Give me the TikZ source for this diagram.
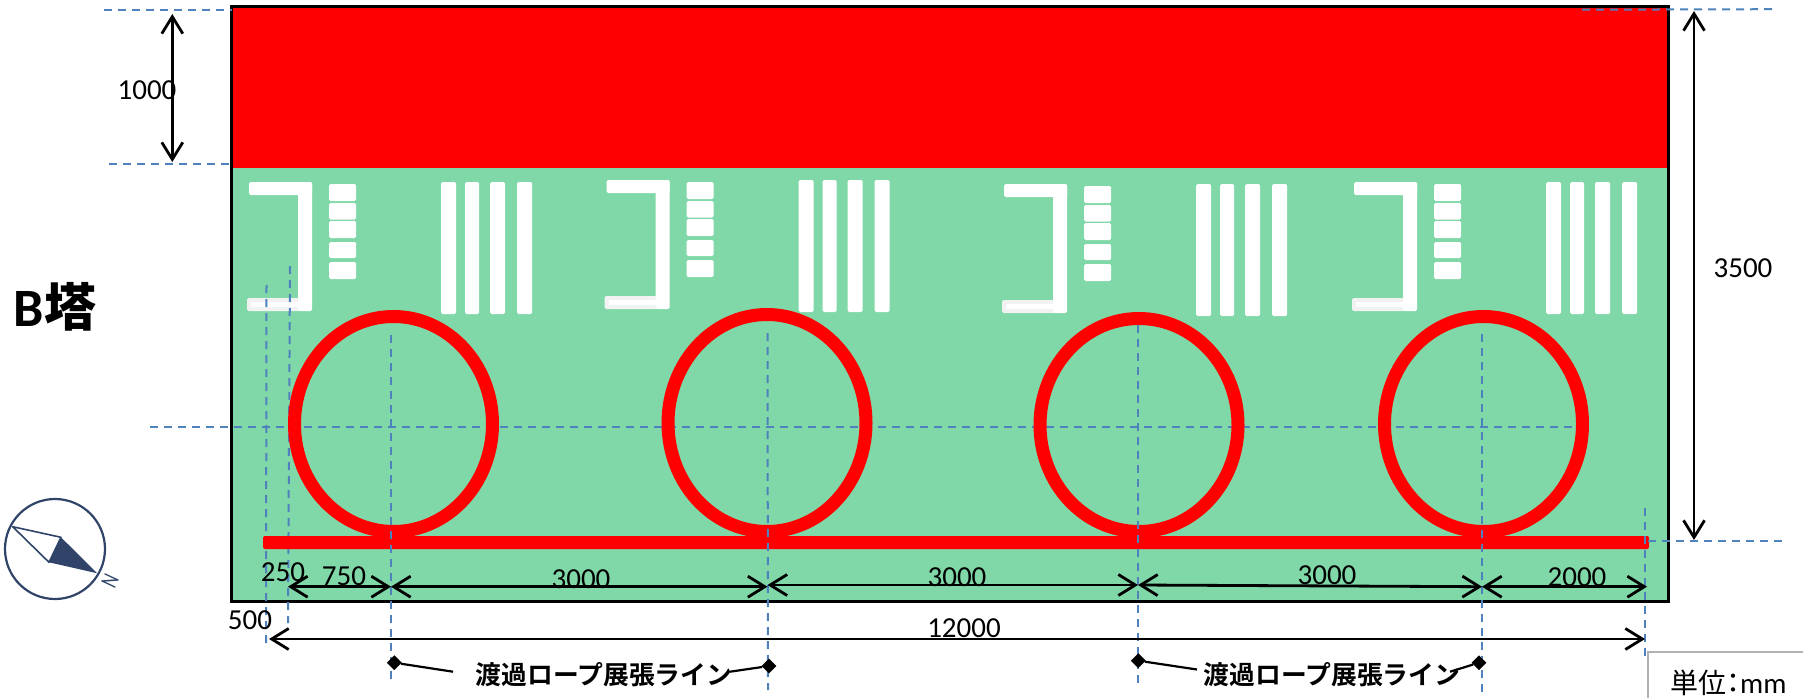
\documentclass[tikz,border=0pt]{standalone}
\usepackage{fontspec}
\setmainfont{Carlito}
\newfontfamily\cjkr[RawFeature=+palt]{Noto Sans CJK JP}
\newfontfamily\cjkbold{Noto Sans CJK JP Bold}
\usetikzlibrary{arrows.meta,shapes.geometric}
\definecolor{bedgreen}{HTML}{80D8A8}
\definecolor{dimblue}{HTML}{4F81BD}
\definecolor{navy}{HTML}{2F4468}
\tikzset{
  whitebar/.style={fill=white,rounded corners=1.5pt},
  greybar/.style={fill=black!5,rounded corners=1.5pt},
  ring/.style={draw=red,line width=13pt},
  dimline/.style={draw=dimblue,line width=2pt,dash pattern=on 8pt off 6pt},
  dimarrow/.style={black,line width=2.8pt,{Straight Barb[length=17pt,width=21pt,line width=2.8pt]}-{Straight Barb[length=17pt,width=21pt,line width=2.8pt]}},
  num/.style={inner sep=0pt,font=\fontsize{29}{32}\selectfont},
  lbl/.style={inner sep=0pt,font=\cjkbold\fontsize{25.8}{30}\selectfont},
  marker/.style={diamond,fill=black,inner sep=0pt,minimum width=15pt,minimum height=15pt},
  leader/.style={black,line width=2.2pt},
}
\begin{document}
\begin{tikzpicture}[x=1pt,y=-1pt]
\useasboundingbox (0,0) rectangle (1803,698);
% bed
\fill[bedgreen] (231,7) rectangle (1668.5,601.5);
\fill[red] (231,7) rectangle (1668.5,168);
\draw[black,line width=3pt] (231,7) rectangle (1668.5,601.5);
% mid dashed line, under the rings
\coordinate (mL) at (150,426.7); \coordinate (mR) at (1576,426.7);
\draw[dimline] (mL) -- (mR);
% white clusters
\foreach \dx/\dy in {0/0,357.5/-2,755/2,1105/0}{
\begin{scope}[shift={(\dx,\dy)}]
  \fill[greybar] (247,298) rectangle (300,311);
  \fill[white] (251,302) rectangle (300,307);
  \fill[whitebar] (249,182) rectangle (312,195);
  \fill[whitebar] (298,182) rectangle (312,311);
  \fill[whitebar] (329,184) rectangle (356,201);
  \fill[whitebar] (329,203) rectangle (356,219.5);
  \fill[whitebar] (329,221) rectangle (356,238);
  \fill[whitebar] (329,242) rectangle (356,258);
  \fill[whitebar] (329,262) rectangle (356,279);
  \fill[whitebar] (441,182) rectangle (456,314);
  \fill[whitebar] (465,182) rectangle (479,314);
  \fill[whitebar] (490,182) rectangle (505,314);
  \fill[whitebar] (517,182) rectangle (532,314);
\end{scope}}
% left verticals
\coordinate (v1t) at (266.5,285); \coordinate (v1b) at (266,643);
\coordinate (v2t) at (290,266);   \coordinate (v2b) at (288,623);
\draw[dimline] (v1t) -- (v1b);
\draw[dimline] (v2t) -- (v2b);
% rings
\draw[ring] (393.5,424) ellipse [x radius=99,y radius=107.5];
\draw[ring] (767,423) ellipse [x radius=99,y radius=108.5];
\draw[ring] (1139,425) ellipse [x radius=99,y radius=106.5];
\draw[ring] (1483.5,424) ellipse [x radius=99,y radius=107.5];
\fill[red,rounded corners=2pt] (263,536) rectangle (1649,549);
% dashed lines
\coordinate (h1a) at (104,9.7); \coordinate (h1b) at (232,9.7);
\coordinate (h2a) at (109,164); \coordinate (h2b) at (232,164);
\coordinate (h3a) at (1582,9.7); \coordinate (h3b) at (1772,9.2);
\coordinate (h4a) at (1648,540.7); \coordinate (h4b) at (1782,540.7);
\draw[dimline] (h1a) -- (h1b);
\draw[dimline] (h2a) -- (h2b);
\draw[dimline] (h3a) -- (h3b);
\draw[dimline] (h4a) -- (h4b);
\coordinate (c1t) at (391,335);  \coordinate (c1b) at (391,682);
\coordinate (c2t) at (767.5,333); \coordinate (c2b) at (768,690);
\coordinate (c3t) at (1138,325); \coordinate (c3b) at (1138,683);
\coordinate (c4t) at (1482,334); \coordinate (c4b) at (1482,692);
\coordinate (c5t) at (1645,508); \coordinate (c5b) at (1645,657);
\foreach \n in {1,...,5}{\draw[dimline] (c\n t) -- (c\n b);}
% dimension arrows
\coordinate (d1a) at (172.3,14);  \coordinate (d1b) at (172.3,162);
\coordinate (d2a) at (1694,11);   \coordinate (d2b) at (1694,540);
\coordinate (r0) at (288,586.7);  \coordinate (r1) at (391,586.7);
\coordinate (r2) at (767.5,586.7);\coordinate (r2b) at (767.5,585);
\coordinate (r3) at (1138,585);   \coordinate (r4) at (1482,586.7);
\coordinate (r5) at (1647,586.7);
\coordinate (t0) at (269,639);    \coordinate (t1) at (1645,639);
\draw[dimarrow] (d1a) -- (d1b);
\draw[dimarrow] (d2a) -- (d2b);
\draw[dimarrow] (r0) -- (r1);
\draw[dimarrow] (r1) -- (r2);
\draw[dimarrow] (r2b) -- (r3);
\draw[dimarrow] (r3) -- (r4);
\draw[dimarrow] (r4) -- (r5);
\draw[dimarrow] (t0) -- (t1);
% numbers
\node[num] (n1000) at (147,90) {1000};
\node[num] (n3500) at (1743,268) {3500};
\node[num] (n250) at (283,572) {250};
\node[num] (n750) at (344,576) {750};
\node[num] (n500) at (250,620) {500};
\node[num] (n3000a) at (581,579) {3000};
\node[num] (n3000b) at (957,577) {3000};
\node[num] (n3000c) at (1327,575) {3000};
\node[num] (n2000) at (1577,577) {2000};
\node[num] (n12000) at (964,628) {12000};
% rope labels
\node[lbl] (la) at (604,675) {渡過ロープ展張ライン};
\node[lbl] (lb) at (1332,675) {渡過ロープ展張ライン};
\node[marker] (ma) at (394.3,662.7) {};
\node[marker] (mb) at (769,666) {};
\node[marker] (mc) at (1138.3,660.7) {};
\node[marker] (md) at (1479,662.7) {};
\draw[leader] (ma) -- (453,671.7);
\draw[leader] (mb) -- (730,671.7);
\draw[leader] (mc) -- (1197,669.5);
\draw[leader] (md) -- (1450,671.7);
% unit box
\draw[black!30,line width=1.5pt] (1810,652) -- (1648,652) -- (1648,705);
\node[inner sep=0pt,anchor=west] (unit) at (1670,683) {\fontsize{29}{32}\selectfont{\cjkr\fontsize{28}{32}\selectfont 単位：}mm};
% tower label
\node[inner sep=0pt] (tower) at (55,307) {\fontsize{54}{58}\selectfont\bfseries B{\cjkbold\fontsize{52}{58}\selectfont 塔}};
% compass
\coordinate (cpA) at (12.7,526.7); \coordinate (cpB) at (61,537.3);
\coordinate (cpC) at (97.3,573.3); \coordinate (cpD) at (49,562.3);
\draw[navy,line width=2.2pt] (55,549) circle [radius=50];
\draw[navy,line width=1.6pt,fill=white,line join=round] (cpA) -- (cpB) -- (cpD) -- cycle;
\fill[navy] (cpB) -- (cpC) -- (cpD) -- cycle;
\node[inner sep=0pt,text=navy,rotate=65,xscale=.75] (north) at (110,581) {\fontsize{24}{26}\selectfont N};
\end{tikzpicture}
\end{document}
